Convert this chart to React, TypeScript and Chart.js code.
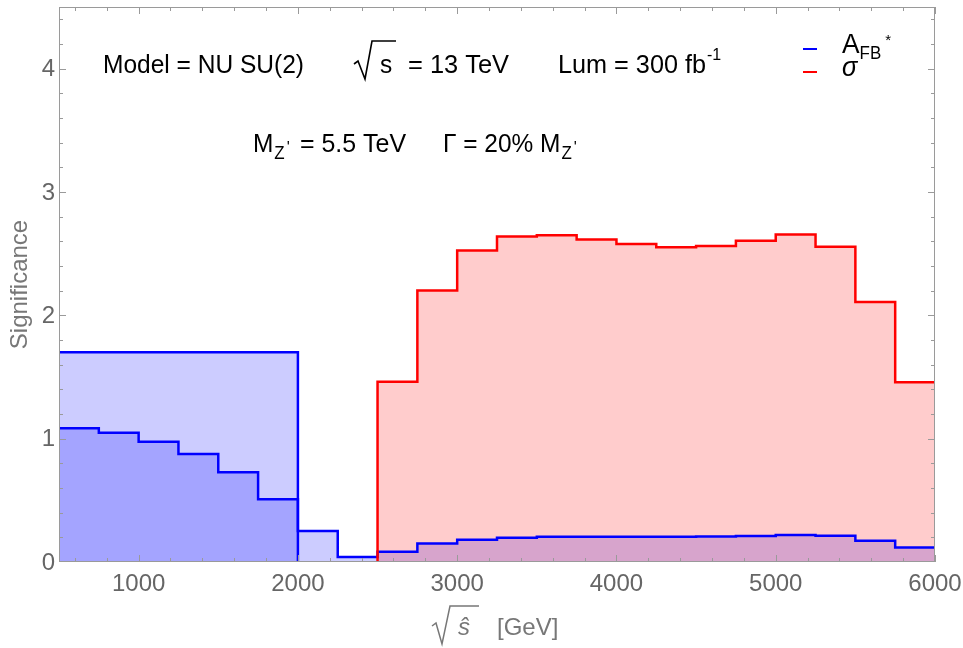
import React, { useEffect, useRef } from "react";
import { Chart, registerables } from "chart.js";

Chart.register(...registerables);

// ---- Data ----
const binEdges = [
  500, 750, 1000, 1250, 1500, 1750, 2000, 2250, 2500, 2750, 3000, 3250,
  3500, 3750, 4000, 4250, 4500, 4750, 5000, 5250, 5500, 5750, 6000,
];
const afbWideEdges = [500, 2000];
const afbWideValues = [1.7];
const afbFineValues = [
  1.085, 1.047, 0.975, 0.875, 0.727, 0.508, 0.251, 0.04, 0.083, 0.149, 0.181,
  0.197, 0.205, 0.205, 0.205, 0.205, 0.207, 0.211, 0.218, 0.212, 0.173, 0.118,
];
const sigmaEdges = [
  2500, 2750, 3000, 3250, 3500, 3750, 4000, 4250, 4500, 4750, 5000, 5250,
  5500, 5750, 6000,
];
const sigmaValues = [
  1.462, 2.202, 2.526, 2.64, 2.65, 2.615, 2.578, 2.553, 2.562, 2.605, 2.656,
  2.556, 2.108, 1.457,
];
const xMajorTicks = [1000, 2000, 3000, 4000, 5000, 6000];
const xTickLabels = ["1000", "2000", "3000", "4000", "5000", "6000"];
const yMajorTicks = [0, 1, 2, 3, 4];
const yTickLabels = ["0", "1", "2", "3", "4"];
const xMinorStep = 200;
const yMinorStep = 0.2;
const X_MIN = 500;
const X_MAX = 6000;
const Y_MIN = 0;
const Y_MAX = 4.5;

const FONT = "'Liberation Sans', Arial, Helvetica, sans-serif";
const AXIS_COLOR = "#9a9a9a";
const LABEL_COLOR = "#666666";
const TITLE_COLOR = "#777777";

function histPoints(
  edges: number[],
  values: number[],
  startAtZero: boolean,
  endAtZero: boolean
) {
  const pts: { x: number; y: number }[] = [];
  if (startAtZero) pts.push({ x: edges[0], y: 0 });
  values.forEach((v, i) => pts.push({ x: edges[i], y: v }));
  pts.push({ x: edges[values.length], y: values[values.length - 1] });
  if (endAtZero) pts.push({ x: edges[values.length], y: 0 });
  return pts;
}

function drawText(
  ctx: CanvasRenderingContext2D,
  s: string,
  x: number,
  y: number,
  size: number,
  color: string,
  opts: { italic?: boolean; sx?: number; fitWidth?: number; align?: CanvasTextAlign } = {}
) {
  ctx.save();
  ctx.font = `${opts.italic ? "italic " : ""}${size}px ${FONT}`;
  ctx.fillStyle = color;
  ctx.textBaseline = "alphabetic";
  ctx.textAlign = opts.align || "left";
  let sx = opts.sx ?? 1;
  const w = ctx.measureText(s).width;
  if (opts.fitWidth) sx = opts.fitWidth / w;
  ctx.translate(x, y);
  ctx.scale(sx, 1);
  ctx.fillText(s, 0, 0);
  ctx.restore();
  return w * sx;
}

function radical(
  ctx: CanvasRenderingContext2D,
  pts: number[][],
  color: string,
  lw: number
) {
  ctx.save();
  ctx.strokeStyle = color;
  ctx.lineWidth = lw;
  ctx.lineJoin = "miter";
  ctx.beginPath();
  pts.forEach((p, i) => (i === 0 ? ctx.moveTo(p[0], p[1]) : ctx.lineTo(p[0], p[1])));
  ctx.stroke();
  ctx.restore();
}

const decorPlugin = {
  id: "decor",
  afterDraw(chart: any) {
    const ctx: CanvasRenderingContext2D = chart.ctx;
    const { left, right, top, bottom } = chart.chartArea;
    const xs = chart.scales.x;
    const ys = chart.scales.y;

    // frame
    ctx.save();
    ctx.strokeStyle = AXIS_COLOR;
    ctx.lineWidth = 1;
    ctx.strokeRect(left + 0.5, top + 0.5, right - left - 1, bottom - top - 1);

    const majorLen = 7;
    const minorLen = 4;
    ctx.beginPath();
    for (let v = X_MIN + 100; v <= X_MAX; v += xMinorStep) {
      const isMajor = xMajorTicks.includes(v);
      const len = isMajor ? majorLen : minorLen;
      const px = Math.round(xs.getPixelForValue(v)) + 0.5;
      ctx.moveTo(px, bottom);
      ctx.lineTo(px, bottom - len);
      ctx.moveTo(px, top);
      ctx.lineTo(px, top + len);
    }
    for (let i = 1; Y_MIN + i * yMinorStep < Y_MAX; i++) {
      const v = Y_MIN + i * yMinorStep;
      const isMajor = Math.abs(v - Math.round(v)) < 1e-6;
      const len = isMajor ? majorLen : minorLen;
      const py = Math.round(ys.getPixelForValue(v)) + 0.5;
      ctx.moveTo(left, py);
      ctx.lineTo(left + len, py);
      ctx.moveTo(right, py);
      ctx.lineTo(right - len, py);
    }
    ctx.stroke();
    ctx.restore();

    // tick labels
    ctx.save();
    ctx.font = `24px ${FONT}`;
    ctx.fillStyle = LABEL_COLOR;
    ctx.textAlign = "center";
    ctx.textBaseline = "alphabetic";
    xMajorTicks.forEach((v, i) => {
      ctx.fillText(xTickLabels[i], xs.getPixelForValue(v), 591);
    });
    ctx.textAlign = "right";
    ctx.textBaseline = "middle";
    yMajorTicks.forEach((v, i) => {
      ctx.fillText(yTickLabels[i], left - 4, ys.getPixelForValue(v) + 1);
    });
    ctx.restore();

    // y title
    ctx.save();
    ctx.font = `24px ${FONT}`;
    ctx.fillStyle = TITLE_COLOR;
    ctx.textAlign = "center";
    ctx.textBaseline = "alphabetic";
    ctx.translate(27, (top + bottom) / 2);
    ctx.rotate(-Math.PI / 2);
    ctx.fillText("Significance", 0, 0);
    ctx.restore();

    // x title: sqrt(s-hat) [GeV]
    radical(
      ctx,
      [
        [432, 626],
        [436, 623],
        [442, 644],
        [450, 606],
        [479, 606],
      ],
      TITLE_COLOR,
      1.5
    );
    drawText(ctx, "\u015D", 458, 635, 24, TITLE_COLOR, { italic: true });
    drawText(ctx, "[GeV]", 497, 635, 24, TITLE_COLOR);

    // annotations line 1
    const black = "#000000";
    drawText(ctx, "Model = NU SU(2)", 103, 73, 26, black, { fitWidth: 201 });
    radical(
      ctx,
      [
        [354, 64],
        [358, 61],
        [365, 79],
        [372, 41],
        [396, 41],
      ],
      black,
      1.6
    );
    drawText(ctx, "s", 380, 73, 26, black, { sx: 0.94 });
    drawText(ctx, "= 13 TeV", 408, 73, 26, black, { fitWidth: 101 });
    drawText(ctx, "Lum = 300 fb", 558, 73, 26, black, { fitWidth: 148 });
    drawText(ctx, "-1", 707, 60, 17, black, { sx: 0.94 });

    // annotations line 2
    let x = 253;
    x += drawText(ctx, "M", x, 152, 26, black, { sx: 0.94 });
    x += drawText(ctx, "Z", x + 1, 159, 18, black, { sx: 0.94 }) + 1;
    drawText(ctx, "'", x + 2, 153, 16, black);
    drawText(ctx, "= 5.5 TeV", 300, 152, 26, black, { fitWidth: 106 });
    x = 443;
    x += drawText(ctx, "\u0393 = 20% M", x, 152, 26, black, { sx: 0.94 });
    x += drawText(ctx, "Z", x + 1, 159, 18, black, { sx: 0.94 }) + 1;
    drawText(ctx, "'", x + 2, 153, 16, black);

    // legend
    ctx.save();
    ctx.lineWidth = 2;
    ctx.strokeStyle = "#0000ff";
    ctx.beginPath();
    ctx.moveTo(803, 49);
    ctx.lineTo(817, 49);
    ctx.stroke();
    ctx.strokeStyle = "#ff0000";
    ctx.beginPath();
    ctx.moveTo(803, 72);
    ctx.lineTo(817, 72);
    ctx.stroke();
    ctx.restore();
    let lx = 842;
    lx += drawText(ctx, "A", lx, 53, 28, black, { sx: 0.94 });
    lx += drawText(ctx, "FB", lx, 59, 18, black, { sx: 0.94 });
    drawText(ctx, "*", lx + 4, 45, 15, black);
    drawText(ctx, "\u03C3", 842, 76, 27, black, { italic: true, sx: 0.94 });
  },
};

export default function App() {
  const ref = useRef<HTMLCanvasElement | null>(null);

  useEffect(() => {
    if (!ref.current) return;
    const common = {
      stepped: "before" as const,
      borderWidth: 2.5,
      fill: "origin" as const,
      pointRadius: 0,
      borderJoinStyle: "miter" as const,
    };
    const chart = new Chart(ref.current, {
      type: "line",
      data: {
        datasets: [
          {
            label: "sigma",
            data: histPoints(sigmaEdges, sigmaValues, true, false),
            borderColor: "#ff0000",
            backgroundColor: "rgba(255,0,0,0.2)",
            ...common,
          },
          {
            label: "AFB fine",
            data: histPoints(binEdges, afbFineValues, false, false),
            borderColor: "#0000ff",
            backgroundColor: "rgba(0,0,255,0.2)",
            ...common,
          },
          {
            label: "AFB wide",
            data: histPoints(afbWideEdges, afbWideValues, false, true),
            borderColor: "#0000ff",
            backgroundColor: "rgba(0,0,255,0.2)",
            ...common,
          },
        ],
      },
      options: {
        animation: false,
        responsive: false,
        maintainAspectRatio: false,
        parsing: false as any,
        normalized: true,
        layout: { padding: { left: 59, right: 28, top: 7, bottom: 86 } },
        plugins: {
          legend: { display: false },
          tooltip: { enabled: false },
          filler: { drawTime: "beforeDatasetsDraw" } as any,
        },
        scales: {
          x: { type: "linear", min: X_MIN, max: X_MAX, display: false },
          y: { type: "linear", min: Y_MIN, max: Y_MAX, display: false },
        },
      },
      plugins: [decorPlugin],
    });
    return () => chart.destroy();
  }, []);

  return (
    <div
      style={{
        position: "fixed",
        left: 0,
        top: 0,
        width: 963,
        height: 648,
        background: "#ffffff",
      }}
    >
      <canvas
        ref={ref}
        width={963}
        height={648}
        style={{ display: "block", width: 963, height: 648 }}
      />
    </div>
  );
}
